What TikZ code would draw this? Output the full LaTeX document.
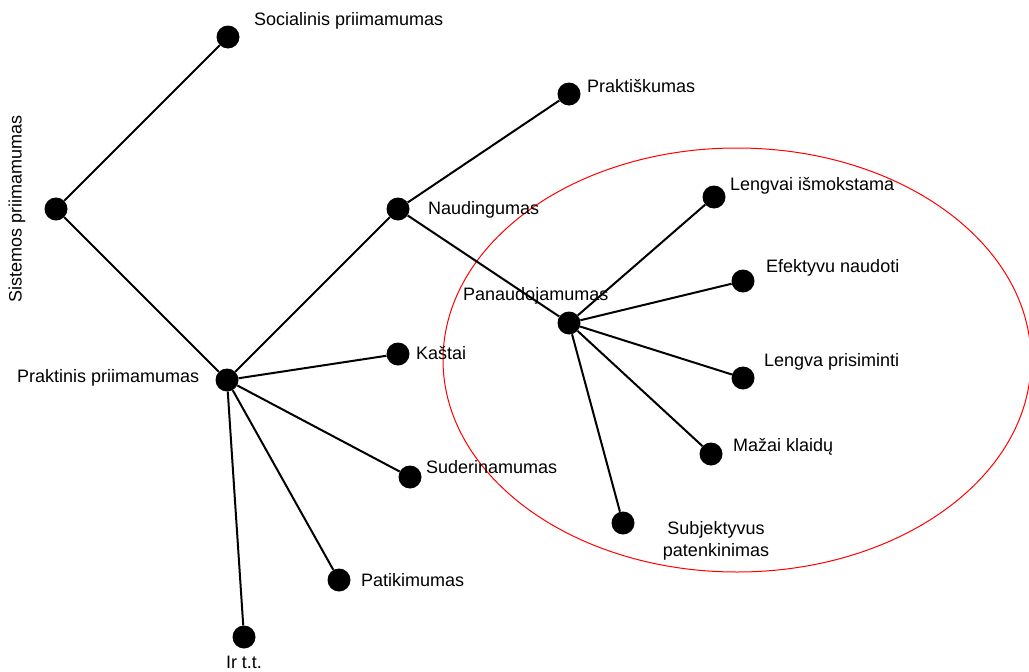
\documentclass[tikz,border=0pt]{standalone}
\usepackage{fontspec}
\setmainfont{Liberation Sans}
\begin{document}
\begin{tikzpicture}[x=1pt,y=-1pt,
  dot/.style={circle,fill=black,inner sep=0pt,minimum size=23pt},
  lbl/.style={inner sep=0pt,anchor=west,font=\fontsize{18}{21}\selectfont},
  link/.style={line width=2pt}]
\useasboundingbox (0,0) rectangle (1029,672);
\draw[red,line width=1pt] (737,360) ellipse [x radius=294,y radius=212];
% dots
\node[dot] (sis) at (56,209) {};
\node[dot] (soc) at (228,37) {};
\node[dot] (pra) at (227,380) {};
\node[dot] (nau) at (398,209) {};
\node[dot] (prk) at (569,94) {};
\node[dot] (kas) at (398,354) {};
\node[dot] (sud) at (410,477) {};
\node[dot] (pat) at (339,580) {};
\node[dot] (irt) at (244,637) {};
\node[dot] (pan) at (569,323) {};
\node[dot] (lei) at (714,197) {};
\node[dot] (efe) at (743,281) {};
\node[dot] (lep) at (743,378) {};
\node[dot] (maz) at (711,454) {};
\node[dot] (sub) at (623,523) {};
% links
\draw[link] (sis) -- (soc);
\draw[link] (sis) -- (pra);
\draw[link] (pra) -- (nau);
\draw[link] (nau) -- (prk);
\draw[link] (nau) -- (pan);
\draw[link] (pra) -- (kas);
\draw[link] (pra) -- (sud);
\draw[link] (pra) -- (pat);
\draw[link] (pra) -- (irt);
\draw[link] (pan) -- (lei);
\draw[link] (pan) -- (efe);
\draw[link] (pan) -- (lep);
\draw[link] (pan) -- (maz);
\draw[link] (pan) -- (sub);
% labels
\node[lbl] (tsoc) at (254,21) {Socialinis priimamumas};
\node[lbl,rotate=90,anchor=center] (tsis) at (17,209) {Sistemos priimamumas};
\node[lbl] (tpra) at (17,378) {Praktinis priimamumas};
\node[lbl] (tnau) at (428,210) {Naudingumas};
\node[lbl] (tprk) at (587,86) {Praktiškumas};
\node[lbl] (tpan) at (463,296) {Panaudojamumas};
\node[lbl] (tkas) at (416,353) {Kaštai};
\node[lbl] (tsud) at (426,467) {Suderinamumas};
\node[lbl] (tpat) at (361,580) {Patikimumas};
\node[lbl,anchor=center] (tirt) at (244,662) {Ir t.t.};
\node[lbl] (tlei) at (730,186) {Lengvai išmokstama};
\node[lbl] (tefe) at (766,268) {Efektyvu naudoti};
\node[lbl] (tlep) at (764,362) {Lengva prisiminti};
\node[lbl] (tmaz) at (733,447) {Mažai klaidų};
\node[lbl,anchor=center,align=center,font=\fontsize{18}{22}\selectfont] (tsub) at (716,541) {Subjektyvus\\patenkinimas};
\end{tikzpicture}
\end{document}
